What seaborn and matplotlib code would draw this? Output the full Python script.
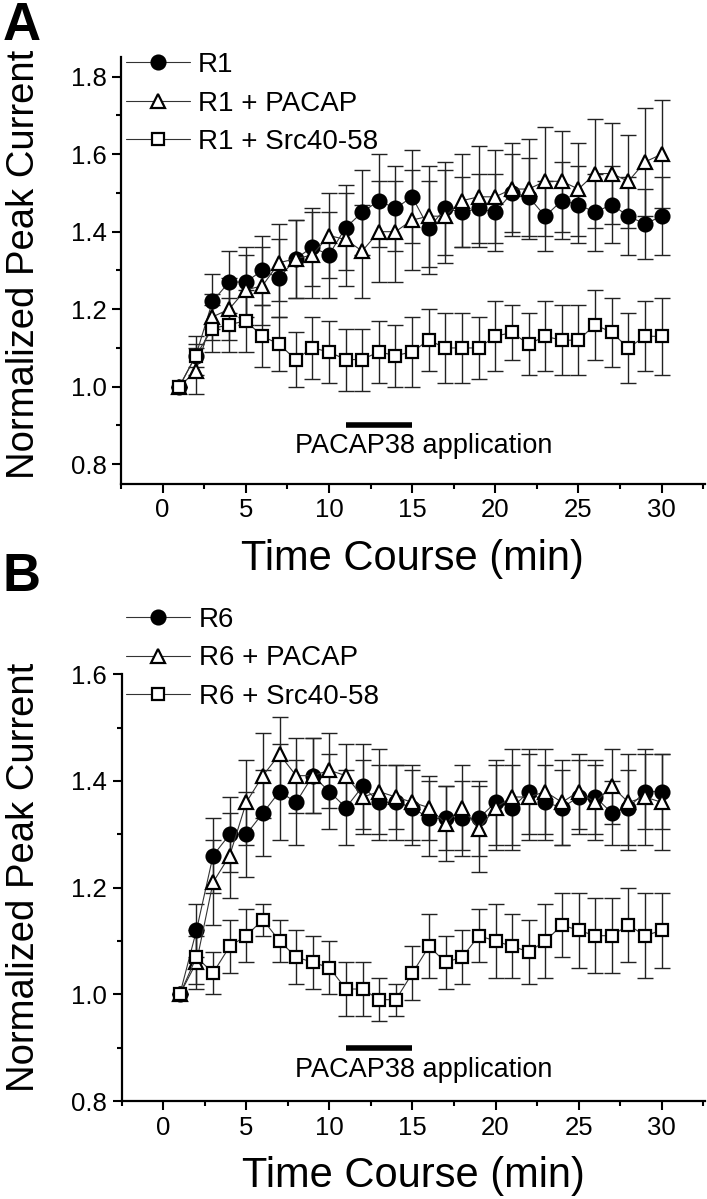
import numpy as np
import pandas as pd
import matplotlib
matplotlib.use("Agg")
import matplotlib.pyplot as plt
import seaborn as sns
from matplotlib.ticker import MultipleLocator, FormatStrFormatter

# time points (min)
minutes = list(range(1, 31))

# panel A - R1 series
a_r1 = [1.00, 1.08, 1.22, 1.27, 1.27, 1.30, 1.28, 1.33, 1.36, 1.34, 1.41, 1.45, 1.48, 1.46, 1.49,
        1.41, 1.46, 1.45, 1.46, 1.45, 1.50, 1.49, 1.44, 1.48, 1.47, 1.45, 1.47, 1.44, 1.42, 1.44]
a_r1_err = [0.00, 0.03, 0.07, 0.08, 0.09, 0.09, 0.10, 0.10, 0.10, 0.11, 0.11, 0.11, 0.12, 0.11, 0.12,
            0.12, 0.12, 0.09, 0.09, 0.10, 0.10, 0.10, 0.09, 0.10, 0.10, 0.10, 0.10, 0.10, 0.09, 0.10]
a_pacap = [1.00, 1.04, 1.18, 1.20, 1.25, 1.26, 1.32, 1.33, 1.34, 1.39, 1.38, 1.35, 1.40, 1.40, 1.43,
           1.44, 1.44, 1.48, 1.49, 1.49, 1.51, 1.51, 1.53, 1.53, 1.51, 1.55, 1.55, 1.53, 1.58, 1.60]
a_pacap_err = [0.00, 0.06, 0.06, 0.08, 0.09, 0.10, 0.10, 0.10, 0.11, 0.11, 0.12, 0.12, 0.13, 0.13, 0.13,
               0.13, 0.12, 0.12, 0.13, 0.12, 0.12, 0.13, 0.14, 0.13, 0.12, 0.14, 0.13, 0.12, 0.14, 0.14]
a_src = [1.00, 1.08, 1.15, 1.16, 1.17, 1.13, 1.11, 1.07, 1.10, 1.09, 1.07, 1.07, 1.09, 1.08, 1.09,
         1.12, 1.10, 1.10, 1.10, 1.13, 1.14, 1.11, 1.13, 1.12, 1.12, 1.16, 1.14, 1.10, 1.13, 1.13]
a_src_err = [0.00, 0.05, 0.06, 0.07, 0.08, 0.08, 0.07, 0.07, 0.08, 0.08, 0.08, 0.08, 0.08, 0.08, 0.09,
             0.08, 0.09, 0.09, 0.08, 0.09, 0.07, 0.08, 0.09, 0.09, 0.09, 0.09, 0.09, 0.09, 0.09, 0.10]

# panel B - R6 series
b_r6 = [1.00, 1.12, 1.26, 1.30, 1.30, 1.34, 1.38, 1.36, 1.41, 1.38, 1.35, 1.39, 1.36, 1.36, 1.35,
        1.33, 1.33, 1.33, 1.33, 1.36, 1.35, 1.38, 1.36, 1.35, 1.37, 1.37, 1.34, 1.35, 1.38, 1.38]
b_r6_err = [0.00, 0.05, 0.07, 0.07, 0.08, 0.08, 0.09, 0.08, 0.07, 0.07, 0.07, 0.08, 0.07, 0.07, 0.07,
            0.07, 0.06, 0.07, 0.07, 0.08, 0.08, 0.08, 0.07, 0.07, 0.07, 0.07, 0.06, 0.07, 0.07, 0.07]
b_pacap = [1.00, 1.06, 1.21, 1.26, 1.36, 1.41, 1.45, 1.41, 1.41, 1.42, 1.41, 1.37, 1.38, 1.37, 1.36,
           1.35, 1.32, 1.35, 1.31, 1.35, 1.37, 1.37, 1.38, 1.36, 1.38, 1.36, 1.39, 1.36, 1.37, 1.36]
b_pacap_err = [0.00, 0.05, 0.08, 0.08, 0.08, 0.08, 0.07, 0.07, 0.07, 0.07, 0.06, 0.07, 0.08, 0.06, 0.07,
               0.06, 0.07, 0.08, 0.08, 0.08, 0.09, 0.08, 0.08, 0.08, 0.07, 0.07, 0.07, 0.09, 0.09, 0.09]
b_src = [1.00, 1.07, 1.04, 1.09, 1.11, 1.14, 1.10, 1.07, 1.06, 1.05, 1.01, 1.01, 0.99, 0.99, 1.04,
         1.09, 1.06, 1.07, 1.11, 1.10, 1.09, 1.08, 1.10, 1.13, 1.12, 1.11, 1.11, 1.13, 1.11, 1.12]
b_src_err = [0.00, 0.05, 0.04, 0.05, 0.05, 0.03, 0.04, 0.05, 0.05, 0.05, 0.05, 0.05, 0.04, 0.03, 0.05,
             0.06, 0.05, 0.05, 0.05, 0.07, 0.06, 0.06, 0.07, 0.06, 0.07, 0.07, 0.07, 0.07, 0.08, 0.07]

a_labels = ["R1", "R1 + PACAP", "R1 + Src40-58"]
b_labels = ["R6", "R6 + PACAP", "R6 + Src40-58"]
pacap_window = [11, 15]

sns.set_theme(style="ticks")
plt.rcParams['font.family'] = ['Liberation Sans', 'DejaVu Sans']
for key in ['text.color', 'axes.labelcolor', 'xtick.color', 'ytick.color', 'axes.edgecolor']:
    plt.rcParams[key] = 'black'

# marker styles: filled circle, open triangle, open square
styles = [dict(marker='o', mfc='black', ms=10),
          dict(marker='^', mfc='white', ms=10.5),
          dict(marker='s', mfc='white', ms=9)]

fig = plt.figure(figsize=(7.07, 11.99), dpi=100)
ax_a = fig.add_axes([0.1711, 0.5967, 0.8259, 0.3555])
ax_b = fig.add_axes([0.1721, 0.0817, 0.8249, 0.3559])


def draw_panel(ax, series, errors, labels, ylim, ymajor, bar_y, text_y, legend_y, ylab_y):
    for vals, err, lab, st in zip(series, errors, labels, styles):
        df = pd.DataFrame({"t": minutes, "v": vals})
        ax.errorbar(minutes, vals, yerr=err, fmt='none', ecolor='#222222',
                    elinewidth=1.0, capsize=6, capthick=1.0, zorder=1)
        sns.lineplot(data=df, x="t", y="v", ax=ax, color='#333333', lw=0.8,
                     marker=st['marker'], markersize=st['ms'], markerfacecolor=st['mfc'],
                     markeredgecolor='black', markeredgewidth=1.6, label=lab, zorder=3)
    ax.plot(pacap_window, [bar_y, bar_y], color='black', lw=4, solid_capstyle='butt')
    ax.text(15.7, text_y, "PACAP38 application", ha='center', va='center', fontsize=19.5)
    ax.set_xlim(-2.5, 32.6)
    ax.set_ylim(*ylim)
    ax.xaxis.set_major_locator(MultipleLocator(5))
    ax.xaxis.set_minor_locator(MultipleLocator(2.5))
    ax.yaxis.set_minor_locator(MultipleLocator(0.1))
    ax.set_yticks(ymajor)
    ax.yaxis.set_major_formatter(FormatStrFormatter('%.1f'))
    ax.tick_params(which='major', length=6.5, width=1.5, labelsize=18.5, pad=4, color='black')
    ax.tick_params(which='minor', length=3.5, width=1.5, color='black')
    sns.despine(ax=ax)
    for sp in ['left', 'bottom']:
        ax.spines[sp].set_linewidth(1.6)
    ax.set_xlabel("Time Course (min)", fontsize=30, labelpad=12)
    ax.set_ylabel("Normalized Peak Current", fontsize=27.5)
    ax.yaxis.set_label_coords(-0.136, ylab_y)
    leg = ax.legend(loc='upper left', bbox_to_anchor=(0.008, legend_y), frameon=False,
                    handlelength=2.3, handletextpad=0.3, labelspacing=0.45,
                    borderaxespad=0, borderpad=0, prop={'size': 20})
    leg.set_zorder(5)


draw_panel(ax_a, [a_r1, a_pacap, a_src], [a_r1_err, a_pacap_err, a_src_err], a_labels,
           (0.75, 1.85), [0.8, 1.0, 1.2, 1.4, 1.6, 1.8], 0.90, 0.846, 1.012, 0.515)
draw_panel(ax_b, [b_r6, b_pacap, b_src], [b_r6_err, b_pacap_err, b_src_err], b_labels,
           (0.8, 1.6), [0.8, 1.0, 1.2, 1.4, 1.6], 0.90, 0.858, 1.158, 0.525)

fig.text(0.004, 0.999, "A", fontsize=38, fontweight='bold', va='top', ha='left')
fig.text(0.004, 0.540, "B", fontsize=38, fontweight='bold', va='top', ha='left')

fig.savefig("out.png", dpi=100, facecolor='white')
